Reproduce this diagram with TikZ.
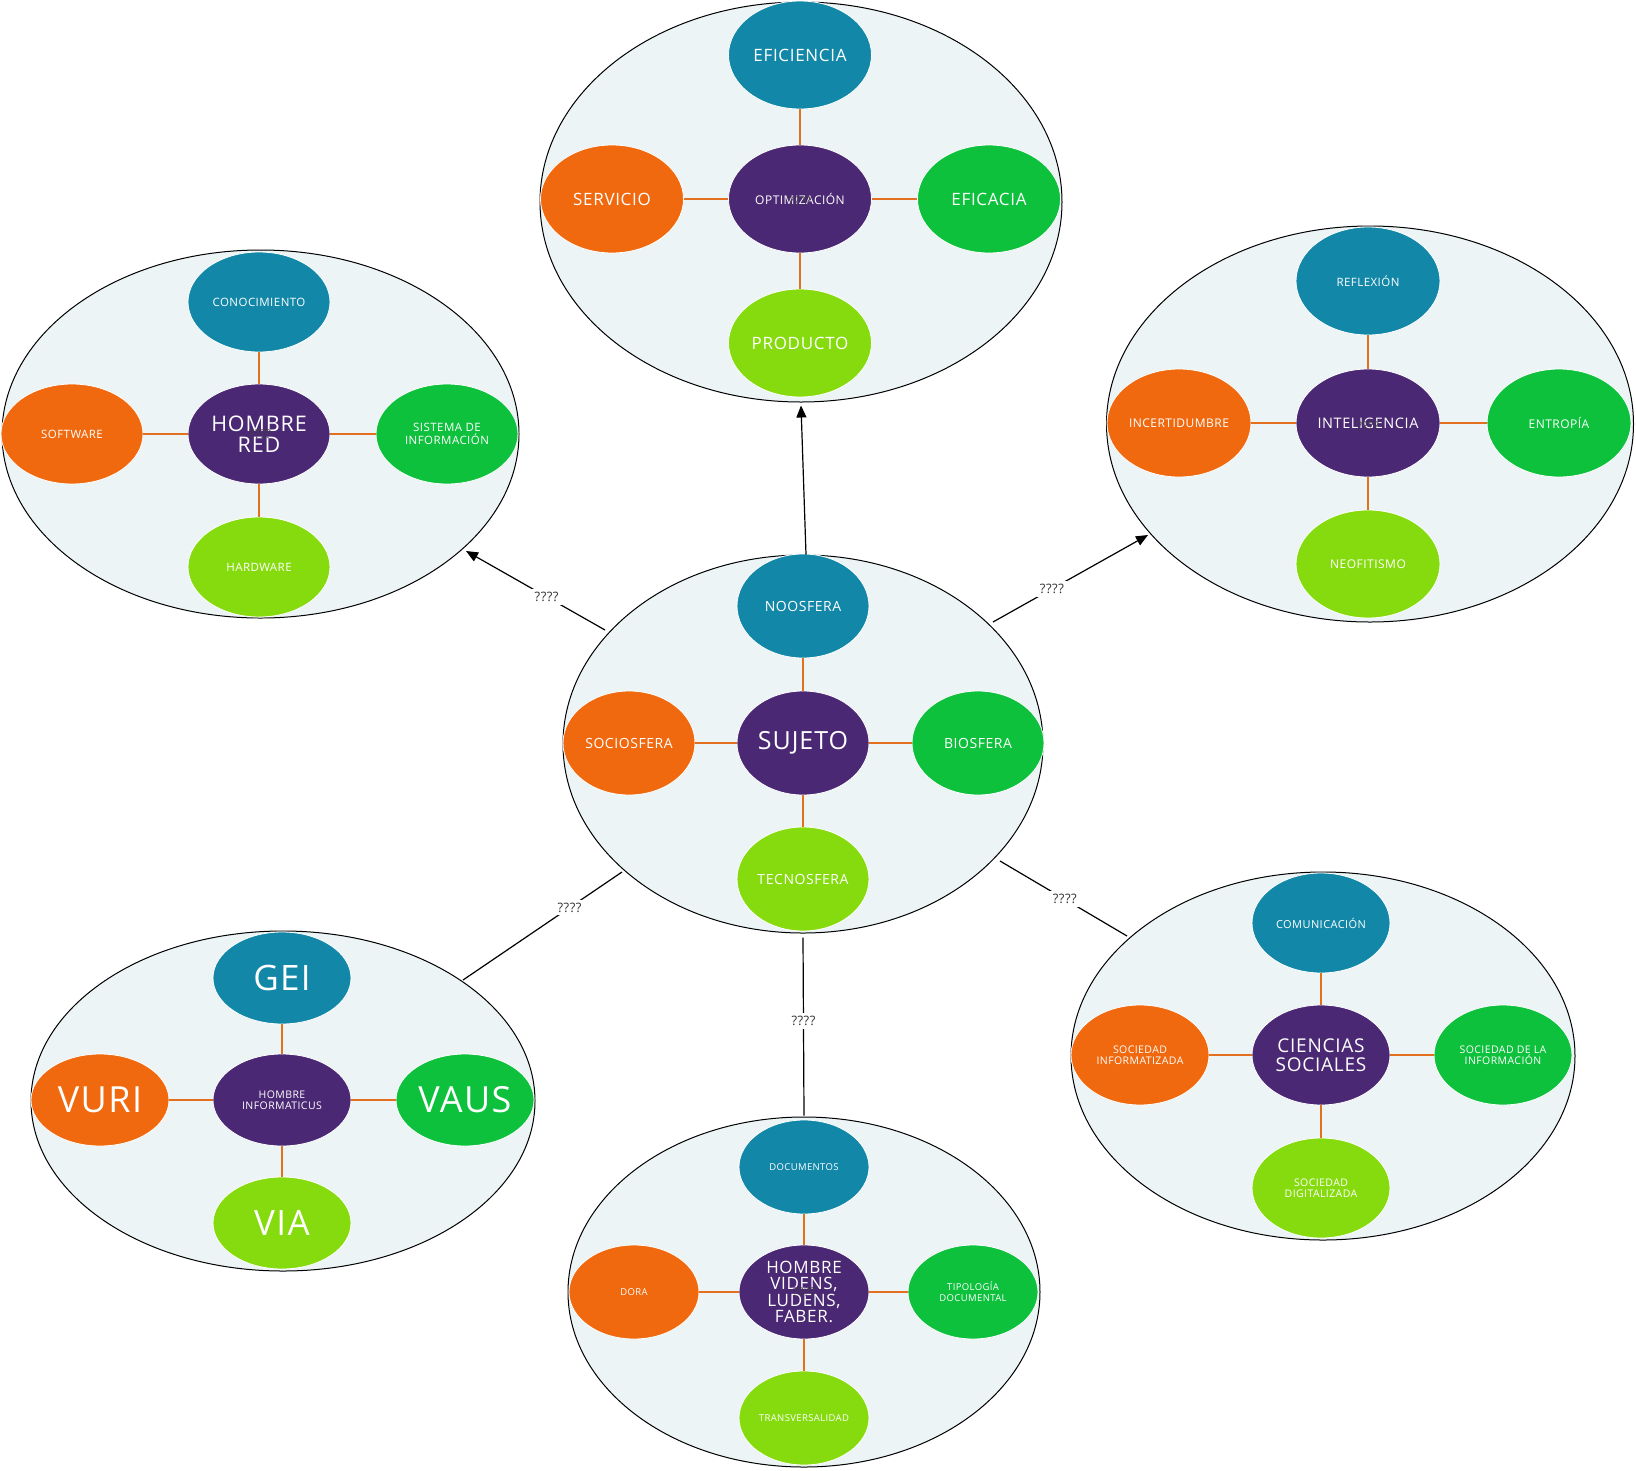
\documentclass[tikz,border=0pt]{standalone}
\usepackage{fontspec}
\setmainfont[LetterSpace=4]{Open Sans}
\usetikzlibrary{shapes.geometric,arrows.meta}
\definecolor{cblue}{HTML}{1287A8}
\definecolor{cpurple}{HTML}{4A2873}
\definecolor{corange}{HTML}{F0690F}
\definecolor{cgreen}{HTML}{0DC13C}
\definecolor{clime}{HTML}{86DB0E}
\definecolor{cbg}{HTML}{ECF4F5}
\definecolor{clink}{HTML}{E2701F}
\newcommand\myfs[2]{\fontsize{#1}{#2}\selectfont}
\tikzset{
  big/.style 2 args={ellipse, draw=black, line width=1pt, fill=cbg, inner sep=0pt, minimum width=#1pt, minimum height=#2pt},
  inw/.style 2 args={ellipse, draw=white, line width=0.8pt, inner sep=0pt, text=white, align=center, minimum width=#1pt, minimum height=#2pt},
  cb/.style={fill=cblue}, cp/.style={fill=cpurple}, co/.style={fill=corange},
  cg/.style={fill=cgreen}, cl/.style={fill=clime},
  link/.style={draw=clink, line width=2.5pt},
  arr/.style={draw=black, line width=1.2pt, -{Triangle[length=12pt,width=10pt]}},
  plain/.style={draw=black, line width=1.2pt},
  qlab/.style={fill=white, text=black!80, inner sep=3pt, font=\myfs{13}{14}},
  qin/.style={text=black!75, inner sep=0pt, font=\myfs{12}{13}}
}
\begin{document}
\begin{tikzpicture}[x=1pt,y=-1pt]
\useasboundingbox[fill=white] (0,0) rectangle (1636,1470);

% ---------- Cluster top ----------
\node[big={522}{400}] (T) at (801,202) {};
\node[inw={143}{108},cb,font=\myfs{17}{19}] (t1) at (800,55) {EFICIENCIA};
\node[inw={143}{108},cp,font=\myfs{12}{13}] (t0) at (800,199) {OPTIMIZACIÓN};
\node[inw={143}{108},co,font=\myfs{17}{19}] (t2) at (612,199) {SERVICIO};
\node[inw={143}{108},cg,font=\myfs{17}{19}] (t3) at (989,199) {EFICACIA};
\node[inw={143}{108},cl,font=\myfs{17}{19}] (t4) at (800,343) {PRODUCTO};
\foreach \n in {t1,t2,t3,t4} \draw[link] (t0) -- (\n);
\node[qin] (tq) at (800,201) {????};

% ---------- Cluster left ----------
\node[big={517}{368}] (L) at (260.5,434) {};
\node[inw={142}{100},cb,font=\myfs{11.5}{13}] (l1) at (259,302) {CONOCIMIENTO};
\node[inw={142}{100},cp,font=\myfs{21.5}{20.5}] (l0) at (259,434) {HOMBRE\\RED};
\node[inw={142}{100},co,font=\myfs{11.5}{13}] (l2) at (72,434) {SOFTWARE};
\node[inw={142}{100},cg,font=\myfs{11.5}{12.5}] (l3) at (447,434) {SISTEMA DE\\INFORMACIÓN};
\node[inw={142}{100},cl,font=\myfs{11.5}{13}] (l4) at (259,567) {HARDWARE};
\foreach \n in {l1,l2,l3,l4} \draw[link] (l0) -- (\n);
\node[qin] (lq) at (260,434) {????};

% ---------- Cluster right ----------
\node[big={527}{396}] (R) at (1370,424) {};
\node[inw={144}{108},cb,font=\myfs{11.5}{13}] (r1) at (1368,281) {REFLEXIÓN};
\node[inw={144}{108},cp,font=\myfs{14.5}{16}] (r0) at (1368,423) {INTELIGENCIA};
\node[inw={144}{108},co,font=\myfs{12}{13}] (r2) at (1179,423) {INCERTIDUMBRE};
\node[inw={144}{108},cg,font=\myfs{12}{13}] (r3) at (1559,423) {ENTROPÍA};
\node[inw={144}{108},cl,font=\myfs{12}{13}] (r4) at (1368,564) {NEOFITISMO};
\foreach \n in {r1,r2,r3,r4} \draw[link] (r0) -- (\n);
\node[qin] (rq) at (1368,426) {????};

% ---------- Cluster centre ----------
\node[big={480}{378}] (C) at (803,744) {};
\node[inw={132}{104},cb,font=\myfs{14}{15}] (c1) at (803,606) {NOOSFERA};
\node[inw={132}{104},cp,font=\myfs{25}{27}] (c0) at (803,743) {SUJETO};
\node[inw={132}{104},co,font=\myfs{14}{15}] (c2) at (629,743) {SOCIOSFERA};
\node[inw={132}{104},cg,font=\myfs{14}{15}] (c3) at (978,743) {BIOSFERA};
\node[inw={132}{104},cl,font=\myfs{14}{15}] (c4) at (803,879) {TECNOSFERA};
\foreach \n in {c1,c2,c3,c4} \draw[link] (c0) -- (\n);

% ---------- Cluster bottom-left ----------
\node[big={504}{340}] (BL) at (283,1101) {};
\node[inw={138}{92},cb,font=\myfs{35}{37}] (bl1) at (282,978) {GEI};
\node[inw={138}{92},cp,font=\myfs{10.5}{11}] (bl0) at (282,1100) {HOMBRE\\INFORMATICUS};
\node[inw={138}{92},co,font=\myfs{36}{38}] (bl2) at (100,1100) {VURI};
\node[inw={138}{92},cg,font=\myfs{36}{38}] (bl3) at (465,1100) {VAUS};
\node[inw={138}{92},cl,font=\myfs{35}{37}] (bl4) at (282,1223) {VIA};
\foreach \n in {bl1,bl2,bl3,bl4} \draw[link] (bl0) -- (\n);

% ---------- Cluster bottom ----------
\node[big={472}{350}] (B) at (804,1292) {};
\node[inw={130}{94},cb,font=\myfs{9.5}{10.5}] (b1) at (804,1167) {DOCUMENTOS};
\node[inw={130}{94},cp,font=\myfs{17}{16.5}] (b0) at (804,1292) {HOMBRE\\VIDENS,\\LUDENS,\\FABER.};
\node[inw={130}{94},co,font=\myfs{9.5}{10.5}] (b2) at (634,1292) {DORA};
\node[inw={130}{94},cg,font=\myfs{9.5}{11}] (b3) at (973,1292) {TIPOLOGÍA\\DOCUMENTAL};
\node[inw={130}{94},cl,font=\myfs{9.5}{10.5}] (b4) at (804,1418) {TRANSVERSALIDAD};
\foreach \n in {b1,b2,b3,b4} \draw[link] (b0) -- (\n);
\node[qin] (bq) at (804,1292) {????};

% ---------- Cluster bottom-right ----------
\node[big={504}{368}] (BR) at (1323,1056) {};
\node[inw={138}{100},cb,font=\myfs{11}{12}] (br1) at (1321,923) {COMUNICACIÓN};
\node[inw={138}{100},cp,font=\myfs{19}{19.5}] (br0) at (1321,1055) {CIENCIAS\\SOCIALES};
\node[inw={138}{100},co,font=\myfs{10.5}{11.5}] (br2) at (1140,1055) {SOCIEDAD\\INFORMATIZADA};
\node[inw={138}{100},cg,font=\myfs{10.5}{11.5}] (br3) at (1503,1055) {SOCIEDAD DE LA\\INFORMACIÓN};
\node[inw={138}{100},cl,font=\myfs{10.5}{11.5}] (br4) at (1321,1188) {SOCIEDAD\\DIGITALIZADA};
\foreach \n in {br1,br2,br3,br4} \draw[link] (br0) -- (\n);

% ---------- Connectors ----------
\coordinate (aL1) at (605,630);  \coordinate (aL2) at (466,551);
\coordinate (aR1) at (993,622);  \coordinate (aR2) at (1148,535);
\coordinate (aBL1) at (622,872); \coordinate (aBL2) at (463,980);
\coordinate (aBR1) at (1000,861); \coordinate (aBR2) at (1127,936);

\draw[arr] ([xshift=3pt]C.north) -- ([yshift=-3pt]T.south);
\draw[arr] (aL1) -- node[qlab, pos=0.42] (qL) {????} (aL2);
\draw[arr] (aR1) -- node[qlab, pos=0.38] (qR) {????} (aR2);
\draw[plain] (aBL1) -- node[qlab, pos=0.33] (qBL) {????} (aBL2);
\draw[plain] ([yshift=-4pt]C.south) -- node[qlab, pos=0.47] (qB) {????} ([yshift=1pt]B.north);
\draw[plain] (aBR1) -- node[qlab, pos=0.51] (qBR) {????} (aBR2);
\end{tikzpicture}
\end{document}
